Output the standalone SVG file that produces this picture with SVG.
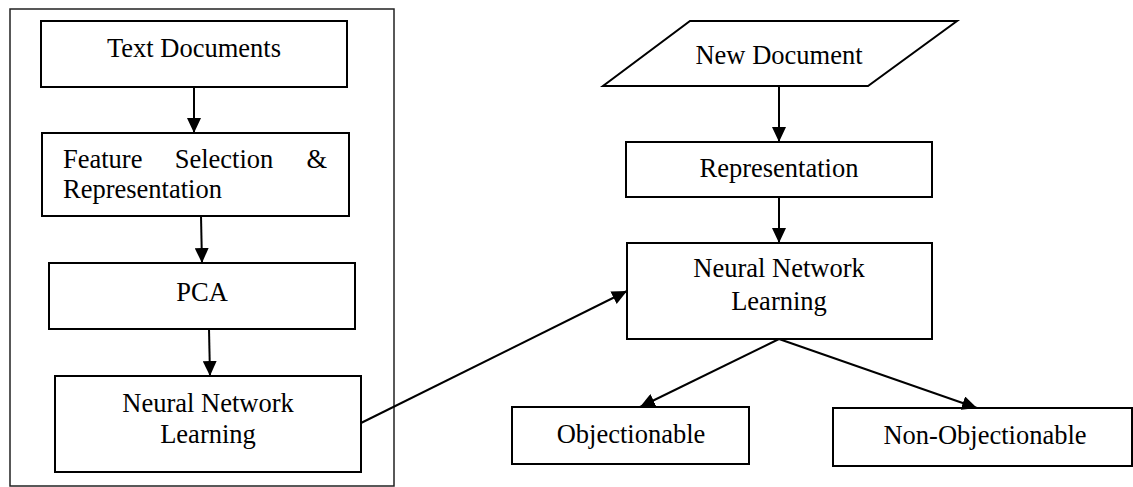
<svg xmlns="http://www.w3.org/2000/svg" width="1133" height="487" viewBox="0 0 1133 487">
<style>
.box{fill:#fff;stroke:#000;stroke-width:2}
.frame{fill:none;stroke:#222;stroke-width:1.5}
.t{font-family:"Liberation Serif","Times New Roman",serif;font-size:26.5px;fill:#000;text-anchor:middle}
.tl{font-family:"Liberation Serif","Times New Roman",serif;font-size:26.5px;fill:#000}
.c{stroke:#000;stroke-width:2;fill:none;marker-end:url(#ah)}
</style>
<defs>
<marker id="ah" markerUnits="userSpaceOnUse" markerWidth="16" markerHeight="14" refX="15" refY="7" orient="auto">
<path d="M0,0 L15,7 L0,14 Z" fill="#000"/>
</marker>
</defs>
<rect class="frame" x="10" y="9" width="384" height="477"/>
<g id="text-documents">
<rect class="box" x="41" y="21" width="306" height="66"/>
<text class="t" x="194" y="57">Text Documents</text>
</g>
<g id="feature-selection">
<rect class="box" x="42" y="133" width="307" height="83"/>
<text class="tl" x="63" y="168">Feature</text>
<text class="t" x="224" y="168">Selection</text>
<text class="tl" x="327" y="168" text-anchor="end">&amp;</text>
<text class="tl" x="63" y="198">Representation</text>
</g>
<g id="pca">
<rect class="box" x="49" y="263" width="306" height="66"/>
<text class="t" x="202" y="301">PCA</text>
</g>
<g id="nn-left">
<rect class="box" x="55" y="376" width="306" height="96"/>
<text class="t" x="208" y="412">Neural Network</text>
<text class="t" x="208" y="443">Learning</text>
</g>
<g id="new-document">
<polygon class="box" points="690,21 957,21 868,86 603,86"/>
<text class="t" x="779" y="64">New Document</text>
</g>
<g id="representation">
<rect class="box" x="626" y="142" width="306" height="55"/>
<text class="t" x="779" y="177">Representation</text>
</g>
<g id="nn-right">
<rect class="box" x="627" y="243" width="305" height="96"/>
<text class="t" x="779" y="277">Neural Network</text>
<text class="t" x="779" y="310">Learning</text>
</g>
<g id="objectionable">
<rect class="box" x="512" y="407" width="237" height="57"/>
<text class="t" x="631" y="443">Objectionable</text>
</g>
<g id="non-objectionable">
<rect class="box" x="833" y="408" width="299" height="58"/>
<text class="t" x="985" y="444">Non-Objectionable</text>
</g>
<g id="connectors">
<line class="c" x1="194" y1="87" x2="194" y2="133"/>
<line class="c" x1="201" y1="216" x2="202" y2="263"/>
<line class="c" x1="209" y1="329" x2="210" y2="376"/>
<line class="c" x1="779" y1="86" x2="779" y2="142"/>
<line class="c" x1="779" y1="197" x2="779" y2="243"/>
<line class="c" x1="361" y1="423" x2="627" y2="291"/>
<line class="c" x1="779" y1="339" x2="640" y2="407"/>
<line class="c" x1="779" y1="339" x2="977" y2="408"/>
</g>
</svg>
